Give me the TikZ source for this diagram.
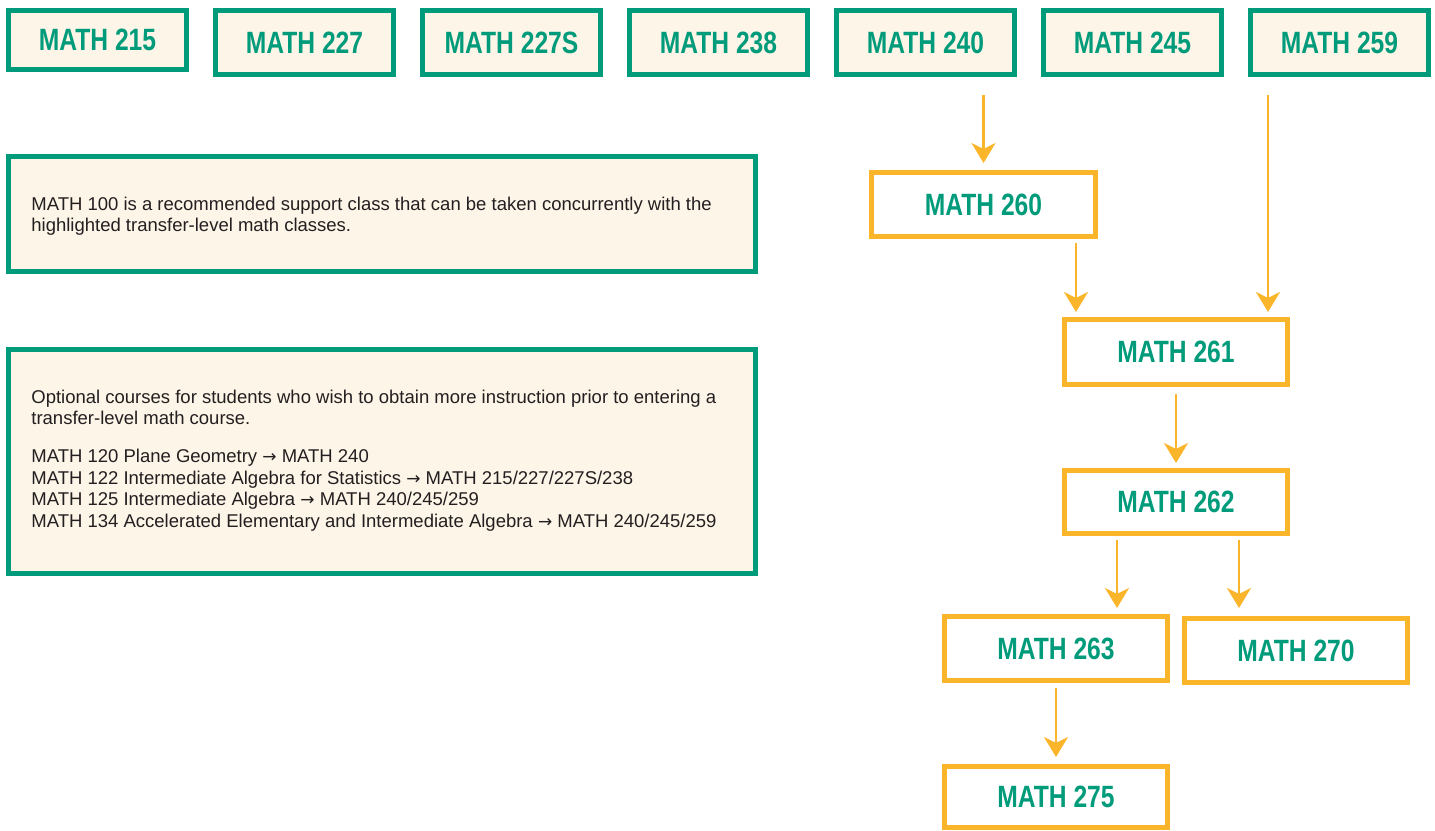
\documentclass[tikz,border=0pt]{standalone}
\usepackage{fontspec}
\setmainfont{Liberation Sans}
\newfontfamily\lblfont[FakeStretch=0.8]{Liberation Sans}
\newfontfamily\arrfont{DejaVu Sans}
\newcommand\rarr{{\arrfont\fontsize{8.5pt}{10pt}\selectfont →}}
\usetikzlibrary{arrows.meta}
\definecolor{mgreen}{HTML}{009B7A}
\definecolor{morange}{HTML}{FBB52B}
\definecolor{mcream}{HTML}{FDF5E8}
\definecolor{mtext}{HTML}{231F20}
\tikzset{
  topbox/.style={draw=mgreen, fill=mcream, line width=2.5pt, minimum width=89pt, minimum height=32pt,
    inner sep=0pt, text=mgreen, font=\lblfont\bfseries\fontsize{15.4pt}{18pt}\selectfont},
  pathbox/.style={draw=morange, fill=white, line width=2.5pt, minimum width=111.5pt, minimum height=32pt,
    inner sep=0pt, text=mgreen, font=\lblfont\bfseries\fontsize{15.4pt}{18pt}\selectfont},
  notebox/.style={draw=mgreen, fill=mcream, line width=2.5pt, minimum width=373.5pt, inner sep=0pt},
  notetext/.style={anchor=base west, inner sep=0pt, text=mtext,
    font=\fontsize{9.25pt}{10.75pt}\selectfont},
  arr/.style={draw=morange, line width=1.4pt, -{Stealth[length=10pt, width=12pt, inset=3pt]}}
}
\begin{document}
\begin{tikzpicture}[x=0.5pt, y=-0.5pt]
\useasboundingbox (0,0) rectangle (1435,830);
% top row
\node[topbox, minimum height=29.5pt] (m215) at (97.5,40) {MATH 215};
\node[topbox] (m227) at (304.5,42.5) {MATH 227};
\node[topbox] (m227s) at (511.5,42.5) {MATH 227S};
\node[topbox] (m238) at (718.5,42.5) {MATH 238};
\node[topbox] (m240) at (925.5,42.5) {MATH 240};
\node[topbox] (m245) at (1132.5,42.5) {MATH 245};
\node[topbox] (m259) at (1339.5,42.5) {MATH 259};
% notes
\node[notebox, minimum height=57.5pt] (n1) at (382,214) {};
\node[notetext] (t1) at (31,210) {\parbox[t]{370pt}{\raggedright
MATH 100 is a recommended support class that can be taken concurrently with the\\
highlighted transfer-level math classes.}};
\node[notebox, minimum height=112pt] (n2) at (382,461.5) {};
\node[notetext] (t2) at (31,403) {\parbox[t]{370pt}{\raggedright
Optional courses for students who wish to obtain more instruction prior to entering a\\
transfer-level math course.\par\vspace{8.25pt}
MATH 120 Plane Geometry \rarr{} MATH 240\\
MATH 122 Intermediate Algebra for Statistics \rarr{} MATH 215/227/227S/238\\
MATH 125 Intermediate Algebra \rarr{} MATH 240/245/259\\
MATH 134 Accelerated Elementary and Intermediate Algebra \rarr{} MATH 240/245/259}};
% pathway
\node[pathbox, minimum width=112pt] (m260) at (983.5,204.5) {MATH 260};
\node[pathbox, minimum height=32.5pt] (m261) at (1176,352) {MATH 261};
\node[pathbox, minimum height=31.5pt] (m262) at (1176,502) {MATH 262};
\node[pathbox] (m263) at (1056,648.5) {MATH 263};
\node[pathbox] (m270) at (1296,650.5) {MATH 270};
\node[pathbox, minimum height=30.5pt] (m275) at (1056,797) {MATH 275};
% connectors
\coordinate (e259) at ([xshift=-11pt]m261.north east);
\coordinate (e260) at ([xshift=7pt]m261.north west);
\coordinate (e263) at ([xshift=30.5pt]m263.north);
\coordinate (e270) at ([xshift=-28.5pt]m270.north);
\draw[arr, shorten <=9pt, shorten >=3.5pt] (m260.north |- m240.south) -- (m260.north);
\draw[arr, shorten <=9pt, shorten >=2.5pt] (e259 |- m259.south) -- (e259);
\draw[arr, shorten <=2pt, shorten >=2.5pt] (e260 |- m260.south) -- (e260);
\draw[arr, shorten <=3.5pt, shorten >=2.5pt] (m261.south) -- (m262.north);
\draw[arr, shorten <=2pt, shorten >=3pt] (e263 |- m262.south) -- (e263);
\draw[arr, shorten <=2pt, shorten >=4pt] (e270 |- m262.south) -- (e270);
\draw[arr, shorten <=2.5pt, shorten >=3.5pt] (m263.south) -- (m275.north);
\end{tikzpicture}
\end{document}
